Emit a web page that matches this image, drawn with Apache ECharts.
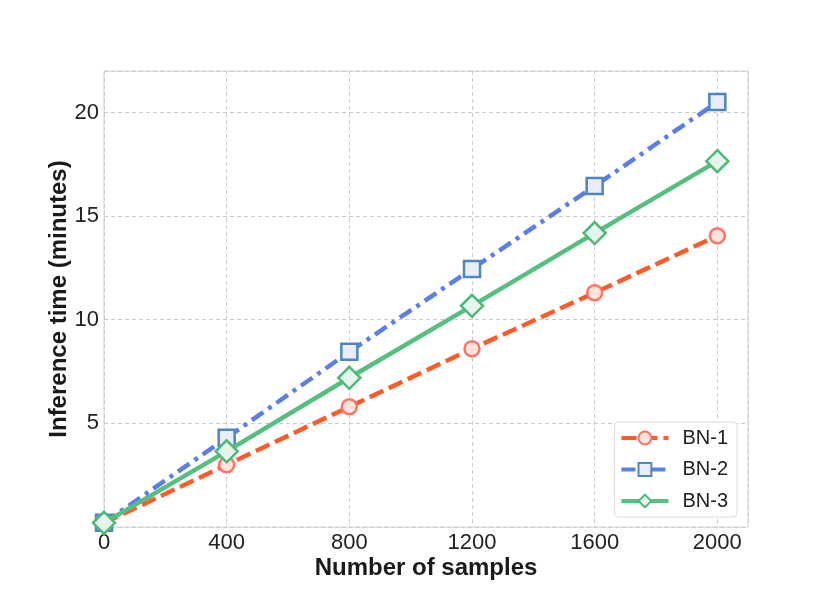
<!DOCTYPE html>
<html>
<head>
<meta charset="utf-8">
<script src="https://cdn.jsdelivr.net/npm/echarts@6/dist/echarts.min.js"></script>
<style>html,body{margin:0;padding:0;background:#fff;}#c{width:830px;height:593px;}</style>
</head>
<body>
<div id="c"></div>
<script>
const xValues = [0, 400, 800, 1200, 1600, 2000];
const bn1 = [0.2, 3.0, 5.8, 8.6, 11.3, 14.05];
const bn2 = [0.2, 4.3, 8.45, 12.45, 16.45, 20.5];
const bn3 = [0.2, 3.65, 7.2, 10.67, 14.18, 17.65];
const seriesNames = ['BN-1', 'BN-2', 'BN-3'];

const font = '"Liberation Sans", Arial, sans-serif';
function pairs(vals) { return xValues.map((x, i) => [x, vals[i]]); }

const chart = echarts.init(document.getElementById('c'), null, {renderer: 'canvas'});
chart.setOption({
  animation: false,
  backgroundColor: '#fff',
  grid: {left: 104, top: 71, right: 82, bottom: 66, show: true, borderColor: '#d4d4d4', borderWidth: 1},
  xAxis: {
    type: 'value', min: 0, max: 2100, interval: 400,
    name: 'Number of samples', nameLocation: 'middle', nameGap: 29, nameMoveOverlap: false,
    nameTextStyle: {fontFamily: font, fontSize: 24, fontWeight: 'bold', color: '#1a1a1a'},
    axisLine: {show: false}, axisTick: {show: false},
    axisLabel: {fontFamily: font, fontSize: 22, color: '#222', margin: 5,
      formatter: v => (v % 400 === 0 ? String(v) : '')},
    splitLine: {show: true, lineStyle: {color: '#cccccc', type: [4, 3], width: 1}}
  },
  yAxis: {
    type: 'value', min: 0, max: 22, interval: 5,
    name: 'Inference time (minutes)', nameLocation: 'middle', nameGap: 33, nameMoveOverlap: false,
    nameTextStyle: {fontFamily: font, fontSize: 24, fontWeight: 'bold', color: '#1a1a1a'},
    axisLine: {show: false}, axisTick: {show: false},
    axisLabel: {fontFamily: font, fontSize: 22, color: '#222', margin: 5,
      formatter: v => (v > 0 && v % 5 === 0 ? String(v) : '')},
    splitLine: {show: true, lineStyle: {color: '#cccccc', type: [4, 3], width: 1}}
  },
  legend: {
    right: 93, bottom: 76, orient: 'vertical',
    backgroundColor: '#fff', borderColor: '#dddddd', borderWidth: 1, borderRadius: 4,
    padding: [6, 9, 6, 5], itemGap: 11.5, itemWidth: 47, itemHeight: 16,
    textStyle: {fontFamily: font, fontSize: 20, color: '#222', padding: [0, 0, 0, 9]},
    lineStyle: {width: 4},
    data: seriesNames
  },
  series: [
    {
      name: seriesNames[0], type: 'line', data: pairs(bn1), z: 3,
      symbol: 'circle', symbolSize: 15,
      lineStyle: {color: '#ff5a2a', width: 4.5, type: [15, 6]},
      itemStyle: {color: '#ffe3de', borderColor: '#ff7465', borderWidth: 2.5}
    },
    {
      name: seriesNames[1], type: 'line', data: pairs(bn2), z: 4,
      symbol: 'rect', symbolSize: 16,
      lineStyle: {color: '#5b7fe6', width: 4.5, type: [14, 6, 4, 6]},
      itemStyle: {color: '#e8eef9', borderColor: '#5086be', borderWidth: 2.5}
    },
    {
      name: seriesNames[2], type: 'line', data: pairs(bn3), z: 5,
      symbol: 'diamond', symbolSize: 22,
      lineStyle: {color: '#55bf80', width: 4.5, type: 'solid'},
      itemStyle: {color: '#e6f5ec', borderColor: '#4db877', borderWidth: 2.5}
    }
  ]
});
</script>
</body>
</html>
